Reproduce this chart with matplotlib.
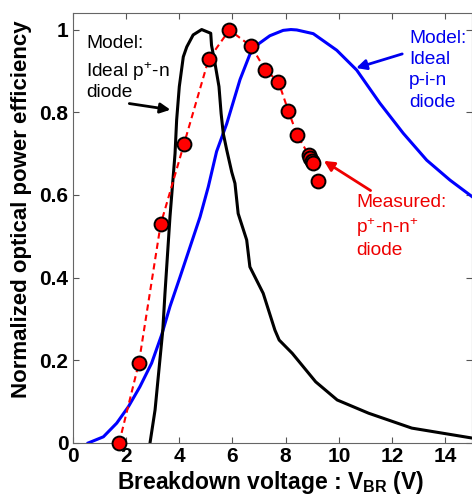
import matplotlib
matplotlib.use("Agg")
import matplotlib.pyplot as plt
from matplotlib.ticker import FuncFormatter

plt.rcParams['font.family'] = ['Liberation Sans', 'DejaVu Sans']
plt.rcParams['mathtext.fontset'] = 'custom'
plt.rcParams['mathtext.rm'] = 'Liberation Sans'
plt.rcParams['mathtext.bf'] = 'Liberation Sans:bold'
plt.rcParams['mathtext.it'] = 'Liberation Sans:italic'

# Measured p+-n-n+ diode
meas_x = [1.75, 2.49, 3.31, 4.19, 5.11, 5.89, 6.72, 7.23, 7.73, 8.10, 8.44, 8.87, 8.93, 8.98, 9.03, 9.21]
meas_y = [0.0, 0.193, 0.529, 0.724, 0.928, 0.999, 0.959, 0.903, 0.874, 0.804, 0.744, 0.697, 0.690, 0.683, 0.677, 0.633]

# Model: ideal p+-n diode
pn_x = [2.91, 3.10, 3.28, 3.39, 3.47, 3.66, 3.85, 3.91, 4.01, 4.16, 4.29, 4.53, 4.85, 5.19, 5.22, 5.35, 5.50,
        5.58, 5.66, 5.79, 5.98, 6.10, 6.22, 6.54, 6.66, 7.16, 7.60, 7.76, 8.25, 9.13, 9.94, 11.12, 12.74, 15.0]
pn_y = [0.0, 0.08, 0.2, 0.273, 0.36, 0.547, 0.70, 0.781, 0.862, 0.934, 0.958, 0.987, 1.0, 0.991, 0.962, 0.918, 0.862,
        0.797, 0.749, 0.709, 0.655, 0.628, 0.555, 0.491, 0.426, 0.362, 0.273, 0.249, 0.217, 0.148, 0.104, 0.072,
        0.036, 0.012]

# Model: ideal p-i-n diode
pin_x = [0.59, 1.16, 1.66, 2.10, 2.53, 2.97, 3.35, 3.66, 4.04, 4.79, 5.10, 5.41, 5.79, 6.29, 6.66, 7.0, 7.41,
         7.91, 8.20, 8.42, 9.04, 9.92, 10.67, 11.54, 12.42, 13.30, 14.17, 15.0]
pin_y = [0.0, 0.015, 0.048, 0.088, 0.136, 0.193, 0.262, 0.33, 0.402, 0.547, 0.62, 0.705, 0.772, 0.879, 0.94, 0.966,
         0.985, 0.998, 1.0, 0.999, 0.99, 0.950, 0.902, 0.822, 0.749, 0.684, 0.636, 0.596]

x_ticks = [0, 2, 4, 6, 8, 10, 12, 14]
y_ticks = [0, 0.2, 0.4, 0.6, 0.8, 1.0]

fig = plt.figure(figsize=(4.72, 4.99), dpi=100)
ax = fig.add_axes([72.5 / 472, 56 / 499, 399.5 / 472, 430 / 499])

ax.plot(pin_x, pin_y, color='#0000ff', lw=2.2)
ax.plot(pn_x, pn_y, color='black', lw=2.2)
ax.plot(meas_x, meas_y, color='#ff0000', lw=1.5, ls=(0, (3, 2)), marker='o', ms=10,
        mfc='#ff0000', mec='black', mew=1.4, clip_on=False, zorder=5)

ax.set_xlim(0, 15)
ax.set_ylim(0, 1.04)
ax.set_xticks(x_ticks)
ax.set_yticks(y_ticks)
ax.yaxis.set_major_formatter(FuncFormatter(lambda v, p: '%g' % v))
ax.tick_params(direction='in', top=True, right=True, length=4, width=0.8, color='#555555',
               labelsize=15, pad=3)
for lab in ax.get_xticklabels() + ax.get_yticklabels():
    lab.set_fontweight('bold')
for s in ax.spines.values():
    s.set_color('#666666')
    s.set_linewidth(0.8)

fig.text(22 / 472, 1 - 209 / 499, 'Normalized optical power efficiency', rotation=90,
         ha='center', va='center', fontsize=16, fontweight='bold')
fig.text(271 / 472, 1 - 489 / 499, r'Breakdown voltage : V$_{\mathbf{BR}}$ (V)',
         ha='center', va='baseline', fontsize=16.5, fontweight='bold')

fs = 13.8
# black annotation
ax.text(0.507, 0.955, 'Model:', fontsize=fs, color='black', va='baseline')
ax.text(0.507, 0.885, r'Ideal p$^{+}$-n', fontsize=fs, color='black', va='baseline')
ax.text(0.507, 0.837, 'diode', fontsize=fs, color='black', va='baseline')
ax.annotate('', xy=(3.78, 0.805), xytext=(2.03, 0.822),
            arrowprops=dict(arrowstyle='-|>,head_length=0.6,head_width=0.3', color='black', lw=2))
# blue annotation
for t, yy in [('Model:', 0.967), ('Ideal', 0.917), ('p-i-n', 0.866), ('diode', 0.813)]:
    ax.text(12.63, yy, t, fontsize=fs, color='#0000ee', va='baseline')
ax.annotate('', xy=(10.55, 0.905), xytext=(12.48, 0.943),
            arrowprops=dict(arrowstyle='-|>,head_length=0.6,head_width=0.3', color='#0000ee', lw=2))
# red annotation
ax.text(10.64, 0.571, 'Measured:', fontsize=fs, color='#ee0000', va='baseline')
ax.text(10.64, 0.508, r'p$^{+}$-n-n$^{+}$', fontsize=fs, color='#ee0000', va='baseline')
ax.text(10.64, 0.455, 'diode', fontsize=fs, color='#ee0000', va='baseline')
ax.annotate('', xy=(9.35, 0.686), xytext=(11.28, 0.607),
            arrowprops=dict(arrowstyle='-|>,head_length=0.6,head_width=0.3', color='#ee0000', lw=2))

fig.savefig('out.png', dpi=100)
